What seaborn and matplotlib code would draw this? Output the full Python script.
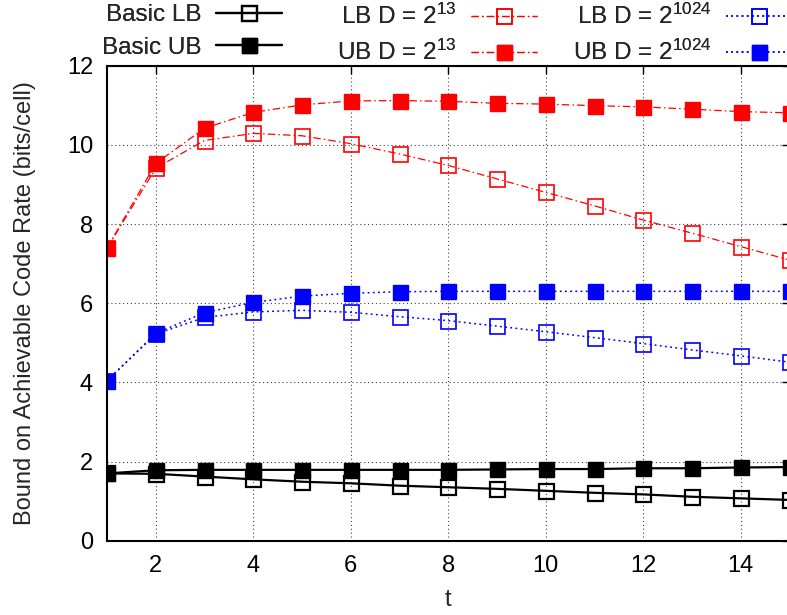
import numpy as np
import pandas as pd
import matplotlib
matplotlib.use("Agg")
import matplotlib.pyplot as plt
import seaborn as sns

# ---- data ----
t = list(range(1, 16))
basic_lb = [1.70, 1.69, 1.62, 1.55, 1.49, 1.45, 1.39, 1.35, 1.31, 1.26, 1.21, 1.17, 1.11, 1.07, 1.03]
basic_ub = [1.70, 1.78, 1.79, 1.79, 1.79, 1.79, 1.79, 1.79, 1.80, 1.81, 1.81, 1.83, 1.83, 1.85, 1.86]
lb_13 = [7.39, 9.41, 10.11, 10.29, 10.23, 10.03, 9.77, 9.48, 9.14, 8.80, 8.46, 8.10, 7.77, 7.43, 7.09]
ub_13 = [7.39, 9.53, 10.42, 10.82, 11.01, 11.11, 11.12, 11.10, 11.05, 11.03, 10.99, 10.96, 10.90, 10.84, 10.81]
lb_1024 = [4.04, 5.22, 5.64, 5.78, 5.82, 5.77, 5.66, 5.56, 5.42, 5.28, 5.13, 4.98, 4.82, 4.67, 4.51]
ub_1024 = [4.04, 5.24, 5.76, 6.02, 6.18, 6.25, 6.29, 6.30, 6.30, 6.30, 6.30, 6.30, 6.30, 6.30, 6.30]

labels = ["Basic LB", "Basic UB",
          r"LB D = $\mathregular{2^{13}}$", r"UB D = $\mathregular{2^{13}}$",
          r"LB D = $\mathregular{2^{1024}}$", r"UB D = $\mathregular{2^{1024}}$"]
xticks = [2, 4, 6, 8, 10, 12, 14]
yticks = [0, 2, 4, 6, 8, 10, 12]

sns.set_style("white")
plt.rcParams["font.family"] = ["Liberation Sans", "DejaVu Sans"]
plt.rcParams["mathtext.fontset"] = "custom"
plt.rcParams["mathtext.rm"] = "Liberation Sans"
plt.rcParams["mathtext.it"] = "Liberation Sans"

FS = 17
LFS = 17.5
fig = plt.figure(figsize=(7.87, 6.15), dpi=100)
ax = fig.add_axes([107 / 787, 1 - 540.7 / 615, 682.5 / 787, 475 / 615])

red = "#ff0000"
blue = "#0000ff"
ms = 10.8

series = [
    (basic_lb, labels[0], "black", "-", 1.6, "none", 1.6),
    (basic_ub, labels[1], "black", "-", 1.6, "black", 1.0),
    (lb_13, labels[2], red, (0, (6, 2.5, 1.2, 2.5)), 0.9, "none", 1.2),
    (ub_13, labels[3], red, (0, (6, 2.5, 1.2, 2.5)), 0.9, red, 1.0),
    (lb_1024, labels[4], blue, (0, (1.2, 2.2)), 1.1, "none", 1.2),
    (ub_1024, labels[5], blue, (0, (1.2, 2.2)), 1.1, blue, 1.0),
]
order = [2, 3, 4, 5, 0, 1]
handles = {}
for i in order:
    vals, lab, col, ls, lw, mfc, mew = series[i]
    df = pd.DataFrame({"t": t, "v": vals})
    sns.lineplot(data=df, x="t", y="v", ax=ax, color=col, linestyle=ls, linewidth=lw,
                 marker="s", markersize=ms, markerfacecolor=mfc, markeredgecolor=col,
                 markeredgewidth=mew, label=lab, legend=False)
    handles[i] = ax.lines[-1]

ax.set_xlim(1, 15)
ax.set_ylim(0, 12)
ax.set_xticks(xticks)
ax.set_yticks(yticks)
ax.set_xticklabels([str(v) for v in xticks])
ax.set_yticklabels([str(v) for v in yticks])
ax.tick_params(direction="in", length=6, width=1.0, top=True, right=True,
               labelsize=FS, pad=10, colors="black")
ax.grid(True, color="black", linestyle=(0, (1, 2.5)), linewidth=0.8, alpha=0.75)
for s in ax.spines.values():
    s.set_linewidth(1.5)
    s.set_color("black")
ax.set_xlabel("t", fontsize=FS, labelpad=9)
ax.set_ylabel("Bound on Achievable Code Rate (bits/cell)", fontsize=FS, labelpad=22)

# legends: three columns, text to the left of the sample (gnuplot style)
ends = [282, 537, 792]
for c in range(3):
    hs = [handles[2 * c], handles[2 * c + 1]]
    ls_ = [labels[2 * c], labels[2 * c + 1]]
    leg = fig.legend(hs, ls_, loc="upper right", bbox_to_anchor=(ends[c] / 787, 1 - 4 / 615),
                     frameon=False, markerfirst=False, fontsize=LFS, handlelength=2.7,
                     handletextpad=0.6, borderpad=0.0, borderaxespad=0.0, labelspacing=0.45)
    fig.add_artist(leg)

fig.savefig("out.png", dpi=100)
